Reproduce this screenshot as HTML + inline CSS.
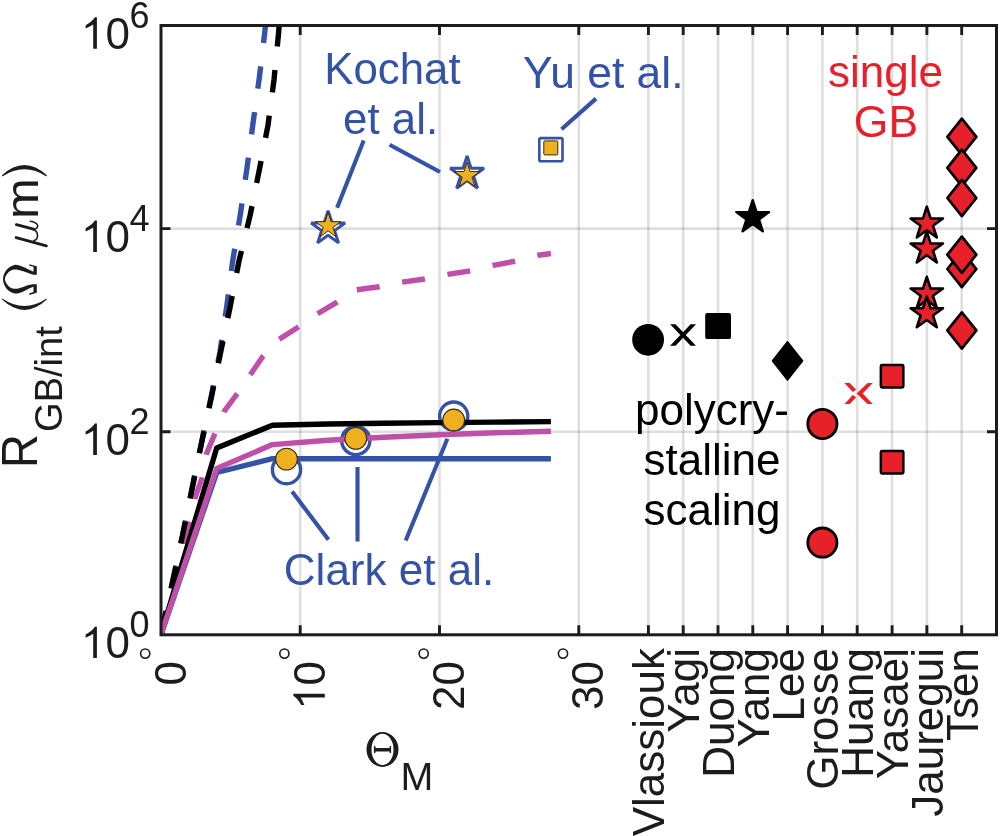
<!DOCTYPE html><html><head><meta charset="utf-8"><style>html,body{margin:0;padding:0;background:#fff;overflow:hidden}svg{display:block;will-change:transform}text{font-family:"Liberation Sans",sans-serif}</style></head><body>
<svg width="1000" height="836" viewBox="0 0 1000 836">
<rect width="1000" height="836" fill="#fff"/>
<path d="M300.2 25.5V634.8M439.5 25.5V634.8M578.8 25.5V634.8M648.4 25.5V634.8M683.2 25.5V634.8M718.0 25.5V634.8M752.8 25.5V634.8M787.6 25.5V634.8M822.4 25.5V634.8M857.2 25.5V634.8M892.1 25.5V634.8M926.9 25.5V634.8M961.7 25.5V634.8" stroke="#262626" stroke-opacity="0.15" stroke-width="2.6" fill="none"/>
<path d="M161.0 431.7H996.5M161.0 228.6H996.5" stroke="#262626" stroke-opacity="0.15" stroke-width="2.6" fill="none"/>
<defs><clipPath id="pc"><rect x="161.0" y="25.5" width="835.5" height="609.3"/></clipPath></defs>
<circle cx="286.5" cy="469.7" r="14.1" fill="none" stroke="#3452a6" stroke-width="3.4"/>
<circle cx="355.8" cy="440.5" r="14.1" fill="none" stroke="#3452a6" stroke-width="3.4"/>
<circle cx="453.7" cy="416.1" r="14.1" fill="none" stroke="#3452a6" stroke-width="3.4"/>
<g clip-path="url(#pc)" fill="none" stroke-width="5.4" stroke-linejoin="round">
<path d="M161.0 634.5 L173.4 578.0 L183.1 532.7 L192.2 488.0 L201.5 443.0 L211.0 397.6 L219.9 352.2 L226.8 306.2 L232.8 260.2 L240.3 214.8 L246.9 168.7 L253.1 122.7 L259.4 77.2 L264.6 33.9 L266.5 15.0" stroke="#3452a6" stroke-dasharray="22.5 23.55" stroke-dashoffset="-2"/>
<path d="M161.0 634.5 L180.0 560.0 L195.0 498.0 L201.6 479.2 L206.2 454.5 L214.6 434.3 L224.5 410.8 L236.3 395.0 L250.8 374.0 L262.6 356.8 L278.4 339.7 L296.8 327.9 L317.4 313.8 L336.6 302.4 L348.0 295.0 L356.4 289.8 L379.2 286.8 L402.0 282.1 L424.8 279.0 L447.6 274.4 L470.4 270.8 L493.2 265.3 L515.3 261.2 L538.3 255.2 L550.9 253.5" stroke="#bf4fa8" stroke-dasharray="23 23" stroke-dashoffset="-1.5"/>
<path d="M161.0 634.5 L173.4 578.0 L183.1 532.7 L192.2 488.0 L201.5 443.0 L211.3 397.6 L220.5 352.9 L230.1 307.1 L238.9 261.4 L250.1 215.4 L259.3 170.0 L268.0 125.2 L274.0 79.8 L278.4 35.1 L280.0 15.0" stroke="#000" stroke-dasharray="22.5 23.55" stroke-dashoffset="-1"/>
<path d="M161.0 634.5 L216.7 472.5 L272.4 458.7 L550.9 458.7" stroke="#3452a6"/>
<path d="M161.0 634.5 L216.7 448.0 L272.4 425.2 L328.1 424.0 L383.8 423.3 L439.5 422.6 L495.2 422.1 L550.9 421.6" stroke="#000"/>
<path d="M161.0 634.5 L216.7 468.5 L272.4 444.6 L328.1 440.3 L383.8 437.3 L439.5 434.8 L495.2 432.8 L550.9 431.2" stroke="#bf4fa8"/>
</g>
<circle cx="286.5" cy="459.1" r="10.9" fill="#edb120" stroke="#3a2a10" stroke-width="1.1"/>
<circle cx="355.8" cy="438.4" r="10.9" fill="#edb120" stroke="#3a2a10" stroke-width="1.1"/>
<circle cx="453.7" cy="420.0" r="10.9" fill="#edb120" stroke="#3a2a10" stroke-width="1.1"/>
<path d="M328.10 210.70 L332.10 223.00 L345.03 223.00 L334.57 230.60 L338.56 242.90 L328.10 235.30 L317.64 242.90 L321.63 230.60 L311.17 223.00 L324.10 223.00Z" fill="none" stroke="#3452a6" stroke-width="3" stroke-linejoin="bevel"/>
<path d="M328.10 212.40 L331.11 221.66 L340.84 221.66 L332.97 227.38 L335.98 236.64 L328.10 230.92 L320.22 236.64 L323.23 227.38 L315.36 221.66 L325.09 221.66Z" fill="#edb120" stroke="#3a2a10" stroke-width="1"/>
<path d="M467.10 156.00 L471.10 168.30 L484.03 168.30 L473.57 175.90 L477.56 188.20 L467.10 180.60 L456.64 188.20 L460.63 175.90 L450.17 168.30 L463.10 168.30Z" fill="none" stroke="#3452a6" stroke-width="3" stroke-linejoin="bevel"/>
<path d="M467.10 162.30 L470.11 171.56 L479.84 171.56 L471.97 177.28 L474.98 186.54 L467.10 180.82 L459.22 186.54 L462.23 177.28 L454.36 171.56 L464.09 171.56Z" fill="#edb120" stroke="#3a2a10" stroke-width="1"/>
<rect x="539.3" y="138.1" width="23.2" height="23.2" rx="1.5" fill="none" stroke="#3452a6" stroke-width="2.6"/>
<rect x="543.8" y="140.9" width="14" height="14" rx="1" fill="#edb120" stroke="#3a2a10" stroke-width="1"/>
<circle cx="648.1" cy="339.8" r="15.9" fill="#000"/>
<path d="M670.10 324.30L675.50 324.30L696.00 345.80L690.60 345.80ZM696.00 324.30L675.50 345.80L670.10 345.80L690.60 324.30Z" fill="#000"/>
<rect x="705.2" y="313.1" width="25.8" height="26" rx="2.2" fill="#000"/>
<path d="M752.70 200.20 L756.56 212.08 L769.06 212.08 L758.95 219.43 L762.81 231.32 L752.70 223.97 L742.59 231.32 L746.45 219.43 L736.34 212.08 L748.84 212.08Z" fill="#000" stroke="#000" stroke-width="2.4" stroke-linejoin="round"/>
<path d="M787.50 342.00L802.30 360.80L787.50 379.60L772.70 360.80Z" fill="#000" stroke="#000" stroke-width="2" stroke-linejoin="round"/>
<circle cx="822.4" cy="423.9" r="14.6" fill="#e8202a" stroke="#000" stroke-width="2.8"/>
<circle cx="822.4" cy="542.6" r="14.6" fill="#e8202a" stroke="#000" stroke-width="2.8"/>
<path d="M844.4 383L849.7 383L856.2 389.8L852.8 391.9ZM844.4 404L849.7 404L856.2 397.2L852.8 395.1ZM867.6 383L872.8 383L862.7 393.5L872.8 404L867.6 404L856.6 393.5Z" fill="#e8202a"/>
<rect x="880.85" y="364.95" width="22.5" height="22.5" rx="1.2" fill="#e8202a" stroke="#000" stroke-width="2.5"/>
<rect x="880.85" y="451.05" width="22.5" height="22.5" rx="1.2" fill="#e8202a" stroke="#000" stroke-width="2.5"/>
<path d="M926.80 206.70 L930.62 218.45 L942.97 218.45 L932.98 225.71 L936.79 237.45 L926.80 230.19 L916.81 237.45 L920.62 225.71 L910.63 218.45 L922.98 218.45Z" fill="#e8202a" stroke="#000" stroke-width="2.6" stroke-linejoin="round"/>
<path d="M926.80 231.70 L930.62 243.45 L942.97 243.45 L932.98 250.71 L936.79 262.45 L926.80 255.19 L916.81 262.45 L920.62 250.71 L910.63 243.45 L922.98 243.45Z" fill="#e8202a" stroke="#000" stroke-width="2.6" stroke-linejoin="round"/>
<path d="M926.80 276.80 L930.62 288.55 L942.97 288.55 L932.98 295.81 L936.79 307.55 L926.80 300.29 L916.81 307.55 L920.62 295.81 L910.63 288.55 L922.98 288.55Z" fill="#e8202a" stroke="#000" stroke-width="2.6" stroke-linejoin="round"/>
<path d="M926.80 296.50 L930.62 308.25 L942.97 308.25 L932.98 315.51 L936.79 327.25 L926.80 319.99 L916.81 327.25 L920.62 315.51 L910.63 308.25 L922.98 308.25Z" fill="#e8202a" stroke="#000" stroke-width="2.6" stroke-linejoin="round"/>
<path d="M961.85 118.70L976.35 136.80L961.85 154.90L947.35 136.80Z" fill="#e8202a" stroke="#000" stroke-width="2.7" stroke-linejoin="round"/>
<path d="M961.85 149.70L976.35 167.80L961.85 185.90L947.35 167.80Z" fill="#e8202a" stroke="#000" stroke-width="2.7" stroke-linejoin="round"/>
<path d="M961.85 179.90L976.35 198.00L961.85 216.10L947.35 198.00Z" fill="#e8202a" stroke="#000" stroke-width="2.7" stroke-linejoin="round"/>
<path d="M961.85 250.90L976.35 269.00L961.85 287.10L947.35 269.00Z" fill="#e8202a" stroke="#000" stroke-width="2.7" stroke-linejoin="round"/>
<path d="M961.85 236.60L976.35 254.70L961.85 272.80L947.35 254.70Z" fill="#e8202a" stroke="#000" stroke-width="2.7" stroke-linejoin="round"/>
<path d="M961.85 312.35L976.35 330.45L961.85 348.55L947.35 330.45Z" fill="#e8202a" stroke="#000" stroke-width="2.7" stroke-linejoin="round"/>
<path d="M363.7 140.5L337.1 207.7M389.6 144.7L440 172M561.5 129.2L596 98.6M292.1 491.6L328.5 539.7M357.5 466.9L357.5 541.5M405.7 540.5L447.4 438.8" stroke="#3452a6" stroke-width="4.1" fill="none"/>
<text x="392.4" y="84.1" font-size="43.8" fill="#3452a6" text-anchor="middle">Kochat</text>
<text x="390.6" y="134.3" font-size="43.8" fill="#3452a6" text-anchor="middle">et al.</text>
<text x="603.3" y="87.6" font-size="44.4" fill="#3452a6" text-anchor="middle">Yu et al.</text>
<text x="885.5" y="86.7" font-size="44" fill="#e8202a" text-anchor="middle">single</text>
<text x="886" y="136.5" font-size="44.5" fill="#e8202a" text-anchor="middle">GB</text>
<text x="712" y="424.6" font-size="44" fill="#000" text-anchor="middle">polycry-</text>
<text x="712" y="475.3" font-size="44" fill="#000" text-anchor="middle">stalline</text>
<text x="712" y="525" font-size="44" fill="#000" text-anchor="middle">scaling</text>
<text x="389" y="584.7" font-size="44" fill="#3452a6" text-anchor="middle">Clark et al.</text>
<path d="M300.2 634.8v-9.5M300.2 25.5v9.5M439.5 634.8v-9.5M439.5 25.5v9.5M578.8 634.8v-9.5M578.8 25.5v9.5M648.4 634.8v-9.5M648.4 25.5v9.5M683.2 634.8v-9.5M683.2 25.5v9.5M718.0 634.8v-9.5M718.0 25.5v9.5M752.8 634.8v-9.5M752.8 25.5v9.5M787.6 634.8v-9.5M787.6 25.5v9.5M822.4 634.8v-9.5M822.4 25.5v9.5M857.2 634.8v-9.5M857.2 25.5v9.5M892.1 634.8v-9.5M892.1 25.5v9.5M926.9 634.8v-9.5M926.9 25.5v9.5M961.7 634.8v-9.5M961.7 25.5v9.5M161.0 431.7h9.5M996.5 431.7h-9.5M161.0 228.6h9.5M996.5 228.6h-9.5" stroke="#1c1c1c" stroke-width="2.9" fill="none"/>
<rect x="161.0" y="25.5" width="835.5" height="609.3" fill="none" stroke="#1c1c1c" stroke-width="3"/>
<path transform="translate(85.6,658.10)" d="M11.3 0V-31.45H9.2C7.4 -28.4 4 -25.8 0 -23.6V-20.4C3 -21.6 5.6 -22.9 7.6 -24.3V0Z" fill="#1c1c1c"/>
<text x="105.47" y="658.1" font-size="44" fill="#1c1c1c">0<tspan font-size="36" dx="-0.5" dy="-21.2">0</tspan></text>
<path transform="translate(85.6,455.00)" d="M11.3 0V-31.45H9.2C7.4 -28.4 4 -25.8 0 -23.6V-20.4C3 -21.6 5.6 -22.9 7.6 -24.3V0Z" fill="#1c1c1c"/>
<text x="105.47" y="455.0" font-size="44" fill="#1c1c1c">0<tspan font-size="36" dx="-0.5" dy="-21.2">2</tspan></text>
<path transform="translate(85.6,251.90)" d="M11.3 0V-31.45H9.2C7.4 -28.4 4 -25.8 0 -23.6V-20.4C3 -21.6 5.6 -22.9 7.6 -24.3V0Z" fill="#1c1c1c"/>
<text x="105.47" y="251.9" font-size="44" fill="#1c1c1c">0<tspan font-size="36" dx="-0.5" dy="-21.2">4</tspan></text>
<path transform="translate(85.6,48.80)" d="M11.3 0V-31.45H9.2C7.4 -28.4 4 -25.8 0 -23.6V-20.4C3 -21.6 5.6 -22.9 7.6 -24.3V0Z" fill="#1c1c1c"/>
<text x="105.47" y="48.8" font-size="44" fill="#1c1c1c">0<tspan font-size="36" dx="-0.5" dy="-21.2">6</tspan></text>
<g transform="translate(185.5,661) rotate(-90)"><text x="0" y="0" font-size="44" fill="#1c1c1c" text-anchor="end">0</text></g>
<g transform="translate(324.8,661) rotate(-90)"><text x="0" y="0" font-size="44" fill="#1c1c1c" text-anchor="end">0</text><path transform="translate(-44,0)" d="M11.3 0V-31.45H9.2C7.4 -28.4 4 -25.8 0 -23.6V-20.4C3 -21.6 5.6 -22.9 7.6 -24.3V0Z" fill="#1c1c1c"/></g>
<g transform="translate(464.0,661) rotate(-90)"><text x="0" y="0" font-size="44" fill="#1c1c1c" text-anchor="end">20</text></g>
<g transform="translate(603.2,661) rotate(-90)"><text x="0" y="0" font-size="44" fill="#1c1c1c" text-anchor="end">30</text></g>
<text transform="translate(664.4,648) rotate(-90)" x="0" y="0" font-size="44" fill="#1c1c1c" text-anchor="end">Vlassiouk</text>
<text transform="translate(699.2,648) rotate(-90)" x="0" y="0" font-size="44" fill="#1c1c1c" text-anchor="end">Yagi</text>
<text transform="translate(734.0,648) rotate(-90)" x="0" y="0" font-size="44" fill="#1c1c1c" text-anchor="end">Duong</text>
<text transform="translate(768.8,648) rotate(-90)" x="0" y="0" font-size="44" fill="#1c1c1c" text-anchor="end">Yang</text>
<text transform="translate(803.6,648) rotate(-90)" x="0" y="0" font-size="44" fill="#1c1c1c" text-anchor="end">Lee</text>
<text transform="translate(838.4,648) rotate(-90)" x="0" y="0" font-size="44" fill="#1c1c1c" text-anchor="end">Grosse</text>
<text transform="translate(873.2,648) rotate(-90)" x="0" y="0" font-size="44" fill="#1c1c1c" text-anchor="end">Huang</text>
<text transform="translate(908.1,648) rotate(-90)" x="0" y="0" font-size="44" fill="#1c1c1c" text-anchor="end">Yasaei</text>
<text transform="translate(942.9,648) rotate(-90)" x="0" y="0" font-size="44" fill="#1c1c1c" text-anchor="end">Jauregui</text>
<text transform="translate(977.7,648) rotate(-90)" x="0" y="0" font-size="44" fill="#1c1c1c" text-anchor="end">Tsen</text>
<path d="M366.5 749.5a16 17.45 0 1 0 32 0a16 17.45 0 1 0 -32 0ZM371.5 749.5a11 15.7 0 1 1 22 0a11 15.7 0 1 1 -22 0Z" fill="#1c1c1c" fill-rule="evenodd"/>
<path d="M374.4 748.1h16.2v3.3h-16.2ZM373.9 746.1h1.5v7h-1.5ZM389.6 746.1h1.5v7h-1.5Z" fill="#1c1c1c"/>
<text transform="translate(400.45,790.20) scale(0.3940,0.3913)" font-size="100" fill="#1c1c1c" style="font-family:'Liberation Sans',sans-serif;font-style:normal">M</text>
<text transform="translate(37.10,468.30) rotate(-90) scale(0.4746,0.5000)" font-size="100" fill="#1c1c1c" style="font-family:'Liberation Sans',sans-serif;font-style:normal">R</text>
<text transform="translate(62.11,431.90) rotate(-90) scale(0.3801,0.3932)" font-size="100" fill="#1c1c1c" style="font-family:'Liberation Sans',sans-serif;font-style:normal">GB/int</text>
<path d="M2 299.6Q24.4 320.4 46.8 299.6L46.6 298.4Q24.4 313.4 2.2 298.4Z" fill="#1c1c1c"/>
<path d="M29.2 264.3L36.8 266.3L36.8 274.7L33.5 274.7C32.70 274.45 30.70 273.85 28.70 273.20C26.70 272.55 23.88 271.40 21.50 270.80C19.12 270.20 16.60 269.33 14.40 269.60C12.20 269.87 9.88 270.82 8.30 272.40C6.72 273.98 4.90 276.85 4.90 279.10C4.90 281.35 6.72 284.28 8.30 285.90C9.88 287.52 12.20 288.53 14.40 288.80C16.60 289.07 19.12 288.13 21.50 287.50C23.88 286.87 26.70 285.55 28.70 285.00C30.70 284.45 32.70 284.33 33.50 284.20L36.8 284.2L36.8 292.8L29.2 294.9L29.5 293.3L33.5 292.0L33.5 286.8C32.70 287.13 30.70 287.90 28.70 288.80C26.70 289.70 23.88 291.43 21.50 292.20C19.12 292.97 16.92 294.03 14.40 293.40C11.88 292.77 8.30 290.78 6.40 288.40C4.50 286.02 3.00 282.18 3.00 279.10C3.00 276.02 4.50 272.27 6.40 269.90C8.30 267.53 11.88 265.50 14.40 264.90C16.92 264.30 19.12 265.52 21.50 266.30C23.88 267.08 26.70 268.68 28.70 269.60C30.70 270.52 32.70 271.43 33.50 271.80L33.5 266.8L29.5 265.8Z" fill="#1c1c1c"/>
<path d="M16.4 224.7L33.5 229.2M16.2 237.6L46.4 245.8" stroke="#1c1c1c" stroke-width="2.9" stroke-linecap="round" fill="none"/>
<path d="M33.5 229.2C36.5 229.2 38.6 226.6 37.3 224.6C36.2 222.8 33.5 221.8 30.3 221.3M33.2 229.6C38.4 231 39.2 239.4 33.9 240.6" stroke="#1c1c1c" stroke-width="1.6" stroke-linecap="round" fill="none"/>
<text transform="translate(38.00,219.03) rotate(-90) scale(0.4900,0.4630)" font-size="100" fill="#1c1c1c" style="font-family:'Liberation Sans',sans-serif;font-style:normal">m</text>
<path d="M2 175.3Q24.4 154.9 46.8 175.3L46.6 176.5Q24.4 161.9 2.2 176.5Z" fill="#1c1c1c"/>
<circle cx="145.2" cy="653.6" r="4.6" fill="none" stroke="#1c1c1c" stroke-width="1.6"/>
<circle cx="284.4" cy="653.6" r="4.6" fill="none" stroke="#1c1c1c" stroke-width="1.6"/>
<circle cx="423.7" cy="653.6" r="4.6" fill="none" stroke="#1c1c1c" stroke-width="1.6"/>
<circle cx="563.0" cy="653.6" r="4.6" fill="none" stroke="#1c1c1c" stroke-width="1.6"/>
</svg></body></html>
